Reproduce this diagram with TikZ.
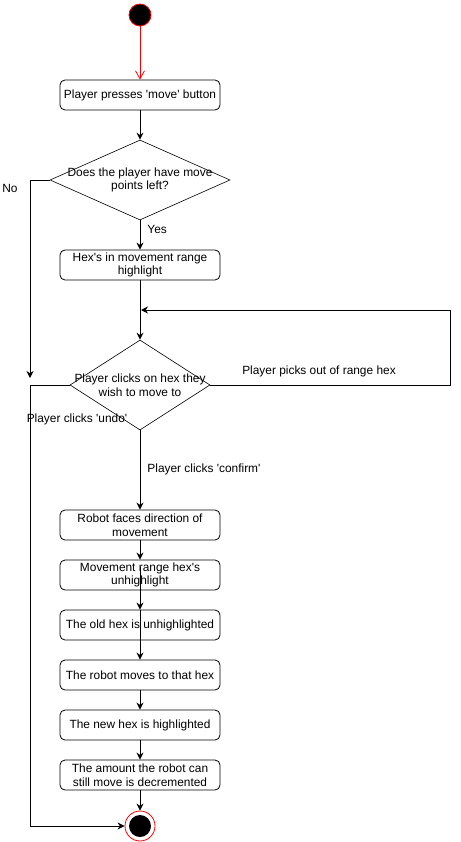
\documentclass[tikz,border=0pt]{standalone}
\usepackage{fontspec}
\setmainfont{Liberation Sans}[Ligatures=TeXOff]
\usetikzlibrary{arrows.meta,shapes.geometric}

\begin{document}
\begin{tikzpicture}[x=1pt,y=-1pt,font=\fontsize{11.9}{13.5}\selectfont,
		actbox/.style={draw,rounded corners=5pt,line width=0.8pt,minimum width=160pt,minimum height=30pt,inner sep=1pt,align=center},
		decision/.style={draw,diamond,line width=0.6pt,inner sep=0pt},
		lbl/.style={inner sep=0pt,align=center},
		startdot/.style={circle,draw=red,fill=black,line width=0.8pt,minimum size=22pt,inner sep=0pt},
		stopdot/.style={circle,draw=red,line width=0.8pt,minimum size=30pt,inner sep=0pt,
			path picture={\fill[black] (path picture bounding box.center) circle[radius=11pt];}},
		flow/.style={line width=0.9pt,-{Stealth[length=7pt,width=7pt]}},
		every edge/.style={draw,flow}]
		\useasboundingbox (0,0) rectangle (460,842);
		
		\node[startdot] (start) at (140,15) {};
		\node[actbox] (b1) at (140,95) {Player presses 'move' button};
		\node[decision,minimum width=180pt,minimum height=80pt] (d1) at (140,180) {};
		\node[lbl] (d1txt) at (140,180) {Does the player have move\\points left?};
		\node[actbox] (b2) at (140,265) {Hex's in movement range\\highlight};
		\node[decision,minimum width=140pt,minimum height=90pt] (d2) at (140,385) {};
		\node[lbl] (d2txt) at (140,385) {Player clicks on hex they\\wish to move to};
		\node[actbox] (b3) at (140,525) {Robot faces direction of\\movement};
		\node[actbox] (b4) at (140,575) {Movement range hex's\\unhighlight};
		\node[actbox] (b5) at (140,625) {The old hex is unhighlighted};
		\node[actbox] (b6) at (140,675) {The robot moves to that hex};
		\node[actbox] (b7) at (140,725) {The new hex is highlighted};
		\node[actbox] (b8) at (140,775) {The amount the robot can\\still move is decremented};
		\node[stopdot] (stop) at (140,826) {};
		
		\node[lbl] (no) at (10,188) {No};
		\node[lbl] (outofrange) at (319,371) {Player picks out of range hex};
		\node[lbl] (undo) at (77,419) {Player clicks 'undo'};
		
		\coordinate (nodown) at (30,378);
		\coordinate (loopcorner) at (450,310);
		\coordinate (loopin) at (141,310);
		\coordinate (undocorner) at (30,826);
		
		\draw (start) edge[red,line width=0.8pt,-{Straight Barb[length=8pt,width=9pt]}] (b1);
		\draw (b1) edge (d1);
		\draw (d1) edge node[lbl,pos=0.3,anchor=west,xshift=7pt] (yes) {Yes} (b2);
		\draw (b2) edge (d2);
		\draw (d2) edge node[lbl,pos=0.49,anchor=west,xshift=7pt] (confirm) {Player clicks 'confirm'} (b3);
		\draw (b3) edge (b4);
		\draw ([yshift=-7pt]b4.north) edge (b5.north);
		\draw (b5.north) edge (b6.north);
		\draw (b6) edge (b7);
		\draw (b7) edge (b8);
		\draw (b8) edge (stop);
		
		\draw[flow] (d1.west) -| (nodown);
		\draw[flow] (d2.east) -| (loopcorner) -- (loopin);
		\draw[flow] (d2.west) -| (undocorner) -- (stop.west);
	\end{tikzpicture}
\end{document}
